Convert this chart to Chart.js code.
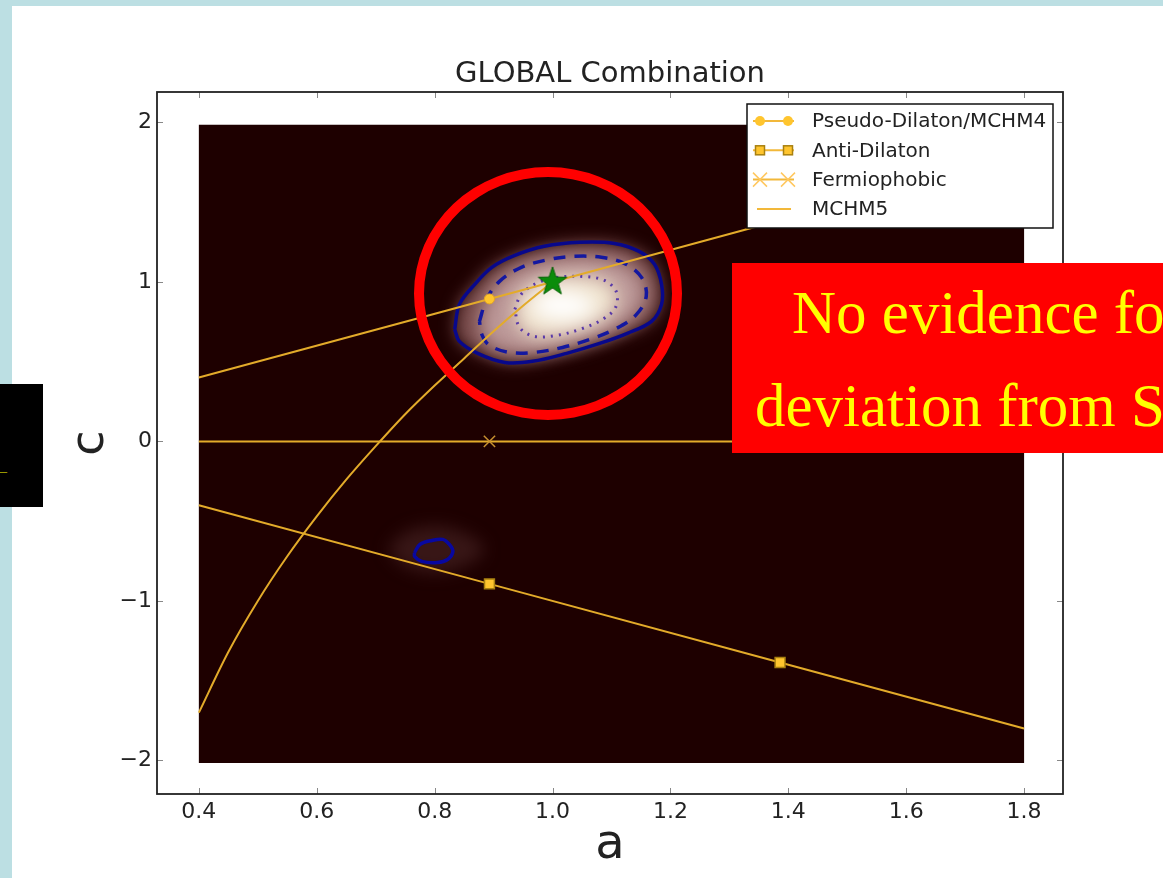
<!DOCTYPE html>
<html><head><meta charset="utf-8">
<script src="https://cdn.jsdelivr.net/npm/chart.js@4.4.1/dist/chart.umd.min.js"></script>
<style>
html,body{margin:0;padding:0;background:#fff;width:1163px;height:878px;overflow:hidden}
#wrap{position:absolute;left:0;top:0;width:1163px;height:878px}
canvas{display:block}
.band{position:absolute;background:#bcdfe3}
#redcircle{position:absolute;left:414px;top:167px;width:268px;height:253px;box-sizing:border-box;border:10px solid #ff0000;border-radius:50%}
#redbox{position:absolute;left:732px;top:263px;width:431px;height:190px;background:#ff0000;overflow:hidden;font-family:'Liberation Serif','Times New Roman',serif;font-size:61px;line-height:61px;color:#ffff00;white-space:nowrap}
#redbox div{position:absolute}
#blackbox{position:absolute;left:0;top:384px;width:43px;height:123px;background:#000;overflow:hidden}
#blackbox span{position:absolute;left:-7px;top:80px;color:#ffff00;font:14px 'Liberation Serif',serif}
</style></head><body>
<div id="wrap"><canvas id="c" width="1163" height="878"></canvas></div>
<div class="band" style="left:0;top:0;width:1163px;height:6px"></div>
<div class="band" style="left:0;top:0;width:12px;height:878px"></div>
<div id="redcircle"></div>
<div id="redbox"><div style="left:60px;top:19px">No evidence for</div><div style="left:23px;top:112px">deviation from SM</div></div>
<div id="blackbox"><span>—</span></div>
<script>
// ---- axis ranges & ticks ----
const X_MIN = 0.329, X_MAX = 1.866, Y_MIN = -2.21, Y_MAX = 2.19;
const xTicks = [0.4, 0.6, 0.8, 1.0, 1.2, 1.4, 1.6, 1.8];
const xTickLabels = ['0.4', '0.6', '0.8', '1.0', '1.2', '1.4', '1.6', '1.8'];
const yTicks = [-2, -1, 0, 1, 2];
const yTickLabels = ['\u22122', '\u22121', '0', '1', '2'];
const titleText = 'GLOBAL Combination';
const xLabel = 'a';
const yLabel = 'c';
const seriesNames = ['Pseudo-Dilaton/MCHM4', 'Anti-Dilaton', 'Fermiophobic', 'MCHM5'];

// ---- likelihood map extent ----
const mapA = [0.4, 1.8, 1.8, 0.4, 0.4];
const mapC = [1.985, 1.985, -2.015, -2.015, 1.985];

// ---- model lines ----
const pdA = [0.4, 0.893, 1.386, 1.8];
const pdC = [0.4, 0.893, 1.386, 1.8];
const adA = [0.4, 0.893, 1.386, 1.8];
const adC = [-0.4, -0.893, -1.386, -1.8];
const fpA = [0.4, 0.893, 1.386, 1.8];
const fpC = [0, 0, 0, 0];
const markerOn = [0, 1, 1, 0];
const mchm5A = [0.40, 0.45, 0.50, 0.55, 0.60, 0.65, 0.70, 0.75, 0.80, 0.85, 0.90, 0.95, 1.00];
const mchm5C = [-1.70, -1.32, -1.00, -0.72, -0.47, -0.24, -0.03, 0.17, 0.35, 0.52, 0.69, 0.85, 1.00];
const smA = [1.0];
const smC = [1.0];

// ---- contours ----
const solidA = [0.834,0.842,0.868,0.897,0.936,0.986,1.046,1.105,1.147,1.173,1.185,1.185,1.168,1.127,1.080,1.024,0.966,0.919,0.873,0.842];
const solidC = [0.702,0.859,0.984,1.091,1.166,1.223,1.248,1.241,1.191,1.110,0.984,0.859,0.752,0.677,0.614,0.552,0.502,0.495,0.552,0.627];
const dashA = [0.876,0.888,0.910,0.947,0.995,1.037,1.083,1.122,1.151,1.159,1.141,1.105,1.063,1.017,0.969,0.927,0.893,0.880];
const dashC = [0.752,0.890,1.003,1.091,1.141,1.160,1.154,1.116,1.028,0.909,0.790,0.702,0.639,0.589,0.558,0.558,0.602,0.671];
const dotA = [0.936,0.947,0.973,1.008,1.051,1.088,1.108,1.107,1.085,1.051,1.008,0.969,0.944];
const dotC = [0.828,0.922,0.991,1.028,1.034,1.009,0.940,0.840,0.765,0.708,0.665,0.658,0.715];
const islandA = [0.766,0.775,0.795,0.814,0.825,0.831,0.822,0.805,0.778,0.766];
const islandC = [-0.696,-0.646,-0.621,-0.614,-0.646,-0.690,-0.740,-0.759,-0.752,-0.721];
const coreA = [0.960,0.980,1.017,1.055,1.075,1.055,1.017,0.980];
const coreC = [0.853,0.925,0.945,0.915,0.853,0.785,0.760,0.785];
const haloA = [0.720,0.749,0.800,0.851,0.884,0.851,0.800,0.749];
const haloC = [-0.677,-0.575,-0.530,-0.575,-0.677,-0.780,-0.825,-0.780];

function pts(A, C, close) {
  const p = A.map((a, i) => ({x: a, y: C[i]}));
  if (close) p.push({x: A[0], y: C[0]});
  return p;
}

const LINE = '#e3ab2a', MARK = '#ffc52e';
const FONT = "'DejaVu Sans', sans-serif";

function makeStar(size, color) {
  const c = document.createElement('canvas');
  c.width = c.height = size;
  const g = c.getContext('2d');
  g.fillStyle = color; g.strokeStyle = '#056005'; g.lineWidth = 1;
  g.beginPath();
  const R = size / 2 - 1, r = R * 0.4;
  for (let k = 0; k < 10; k++) {
    const rad = k % 2 ? r : R;
    const ang = -Math.PI / 2 + k * Math.PI / 5;
    g.lineTo(size / 2 + rad * Math.cos(ang), size / 2 + rad * Math.sin(ang));
  }
  g.closePath(); g.fill(); g.stroke();
  return c;
}
const starImg = makeStar(32, '#0a8c0a');

function fillDs(A, C, color, blur) {
  return {data: pts(A, C, true), fill: 'shape', backgroundColor: color, borderWidth: 0,
          pointRadius: 0, tension: 0.35, blur: blur};
}
function contourDs(A, C, color, width, dash) {
  return {data: pts(A, C, true), fill: false, borderColor: color, borderWidth: width,
          borderDash: dash, pointRadius: 0, tension: 0.35};
}

const datasets = [
  {data: pts(smA, smC), showLine: false, pointStyle: starImg, pointRadius: 16},
  {data: pts(pdA, pdC), borderColor: LINE, borderWidth: 2, pointStyle: 'circle',
   pointRadius: markerOn.map(m => m * 5), pointBackgroundColor: MARK, pointBorderColor: '#e8a820', pointBorderWidth: 1},
  {data: pts(adA, adC), borderColor: LINE, borderWidth: 2, pointStyle: 'rect',
   pointRadius: markerOn.map(m => m * 7), pointBackgroundColor: MARK, pointBorderColor: '#a88010', pointBorderWidth: 1.5},
  {data: pts(fpA, fpC), borderColor: LINE, borderWidth: 2, pointStyle: 'crossRot',
   pointRadius: markerOn.map(m => m * 8), pointBorderColor: '#c89030', pointBorderWidth: 1.5},
  {data: pts(mchm5A, mchm5C), borderColor: LINE, borderWidth: 2, pointRadius: 0, cubicInterpolationMode: 'monotone'},
  contourDs(dotA, dotC, '#5a3aa8', 3, [2, 6]),
  contourDs(dashA, dashC, '#1418a0', 3.5, [12, 9]),
  contourDs(solidA, solidC, '#08088c', 3.5, []),
  contourDs(islandA, islandC, '#0808a0', 3.5, []),
  fillDs(coreA, coreC, '#ffffff', 10),
  fillDs(dotA, dotC, '#efe2cc', 9),
  fillDs(dashA, dashC, '#bc9898', 9),
  fillDs(solidA, solidC, '#7a4c4c', 8),
  fillDs(haloA, haloC, '#381616', 8),
  {data: pts(mapA, mapC), fill: 'shape', backgroundColor: '#1e0000', borderWidth: 0, pointRadius: 0, tension: 0}
];

function setF(ctx, d) { ctx.filter = (d && d.blur) ? 'blur(' + d.blur + 'px)' : 'none'; }
const glowPlugin = {
  id: 'glow',
  beforeDatasetsDraw(chart) { const ds = chart.data.datasets; setF(chart.ctx, ds[ds.length - 1]); },
  afterDatasetDraw(chart, args) { setF(chart.ctx, chart.data.datasets[args.index - 1]); },
  afterDatasetsDraw(chart) { chart.ctx.filter = 'none'; }
};

const framePlugin = {
  id: 'frame',
  afterDatasetsDraw(chart) {
    const ctx = chart.ctx, a = chart.chartArea, sx = chart.scales.x, sy = chart.scales.y;
    ctx.save();
    ctx.filter = 'none';
    ctx.strokeStyle = '#888'; ctx.lineWidth = 1;
    ctx.beginPath();
    xTicks.forEach(v => { const p = Math.round(sx.getPixelForValue(v)) + 0.5;
      ctx.moveTo(p, a.bottom); ctx.lineTo(p, a.bottom - 6); ctx.moveTo(p, a.top); ctx.lineTo(p, a.top + 6); });
    yTicks.forEach(v => { const p = Math.round(sy.getPixelForValue(v)) + 0.5;
      ctx.moveTo(a.left, p); ctx.lineTo(a.left + 6, p); ctx.moveTo(a.right, p); ctx.lineTo(a.right - 6, p); });
    ctx.stroke();
    ctx.strokeStyle = '#222'; ctx.lineWidth = 1.8;
    ctx.strokeRect(a.left, a.top, a.right - a.left, a.bottom - a.top);
    ctx.restore();
  }
};

const legendPlugin = {
  id: 'mplLegend',
  afterDatasetsDraw(chart) {
    const ctx = chart.ctx, a = chart.chartArea;
    const w = 306, h = 124, x0 = a.right - 10 - w, y0 = a.top + 12;
    ctx.save();
    ctx.filter = 'none';
    ctx.fillStyle = '#fff'; ctx.fillRect(x0, y0, w, h);
    ctx.strokeStyle = '#111'; ctx.lineWidth = 1.5; ctx.strokeRect(x0, y0, w, h);
    const L = '#f2b83a';
    seriesNames.forEach((name, i) => {
      const y = y0 + 17 + i * 29.3;
      const xa = x0 + 6, xb = x0 + 47, m1 = x0 + 13, m2 = x0 + 41;
      ctx.strokeStyle = L; ctx.lineWidth = 2;
      ctx.beginPath(); ctx.moveTo(i === 3 ? x0 + 10 : xa, y); ctx.lineTo(i === 3 ? x0 + 44 : xb, y); ctx.stroke();
      [m1, m2].forEach(mx => {
        if (i === 0) { ctx.fillStyle = MARK; ctx.beginPath(); ctx.arc(mx, y, 5, 0, Math.PI * 2); ctx.fill(); }
        else if (i === 1) { ctx.fillStyle = MARK; ctx.fillRect(mx - 4.5, y - 4.5, 9, 9);
          ctx.strokeStyle = '#a88010'; ctx.lineWidth = 1.5; ctx.strokeRect(mx - 4.5, y - 4.5, 9, 9); }
        else if (i === 2) { ctx.strokeStyle = '#ffc860'; ctx.lineWidth = 1.5; ctx.beginPath();
          ctx.moveTo(mx - 7, y - 7); ctx.lineTo(mx + 7, y + 7); ctx.moveTo(mx - 7, y + 7); ctx.lineTo(mx + 7, y - 7); ctx.stroke(); }
      });
      ctx.fillStyle = '#222'; ctx.font = '20px ' + FONT; ctx.textBaseline = 'middle'; ctx.textAlign = 'left';
      ctx.fillText(name, x0 + 65, y + 1);
    });
    ctx.restore();
  }
};

Chart.defaults.color = '#222';
new Chart(document.getElementById('c'), {
  type: 'line',
  data: {datasets: datasets},
  options: {
    responsive: false, animation: false, events: [],
    layout: {padding: {left: 0, right: 100, top: 0, bottom: 0}},
    plugins: {
      legend: {display: false}, tooltip: {enabled: false},
      title: {display: true, text: titleText, fullSize: false, color: '#222',
              font: {family: FONT, size: 29, weight: 'normal', lineHeight: 1.2}, padding: {top: 57, bottom: 0.2}}
    },
    scales: {
      x: {type: 'linear', position: 'bottom', min: X_MIN, max: X_MAX,
          afterFit: s => { s.height = 84; },
          afterBuildTicks: s => { s.ticks = xTicks.map(v => ({value: v})); },
          ticks: {callback: (v, i) => xTickLabels[i], font: {family: FONT, size: 22, lineHeight: 1}, color: '#222', padding: 7, maxRotation: 0, autoSkip: false},
          grid: {display: false, drawTicks: false}, border: {display: false},
          title: {display: true, text: xLabel, color: '#222', font: {family: FONT, size: 48, lineHeight: 1}, padding: {top: 0, bottom: 8}}},
      y: {type: 'linear', position: 'left', min: Y_MIN, max: Y_MAX,
          afterFit: s => { s.width = 157; },
          afterBuildTicks: s => { s.ticks = yTicks.map(v => ({value: v})); },
          ticks: {callback: (v, i) => yTickLabels[i], font: {family: FONT, size: 22, lineHeight: 1}, color: '#222', padding: 5, autoSkip: false},
          grid: {display: false, drawTicks: false}, border: {display: false},
          title: {display: true, text: yLabel, color: '#222', font: {family: FONT, size: 46, lineHeight: 1}, padding: {top: 68, bottom: 0}}}
    }
  },
  plugins: [glowPlugin, framePlugin, legendPlugin]
});
</script>
</body></html>
